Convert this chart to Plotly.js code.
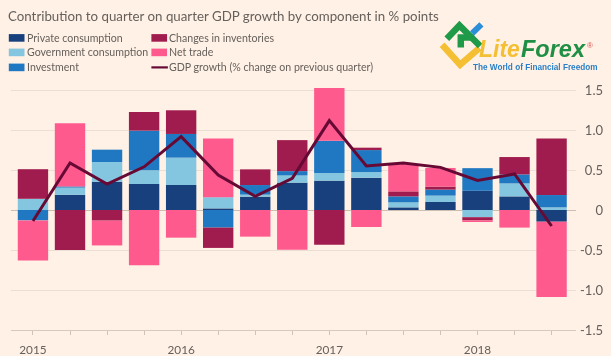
<!DOCTYPE html>
<html><head><meta charset="utf-8">
<script src="https://cdn.plot.ly/plotly-3.0.1.min.js"></script>
<style>html,body{margin:0;padding:0;background:#fff1e5;overflow:hidden}#c{width:611px;height:356px;filter:blur(0.45px)}</style>
</head><body><div id="c"></div>
<script>
const quarters = ["2015 Q1","2015 Q2","2015 Q3","2015 Q4","2016 Q1","2016 Q2","2016 Q3","2016 Q4","2017 Q1","2017 Q2","2017 Q3","2017 Q4","2018 Q1","2018 Q2","2018 Q3"];
const privateConsumption = [0,0.19,0.354,0.325,0.3125,0.02,0.167,0.342,0.367,0.404,0.033,0.1,0.24,0.17,-0.146];
const governmentConsumption = [0.14,0.09,0.246,0.171,0.342,0.14,0.025,0.09,0.096,0.07,0.0625,0.08,-0.09,0.1625,0.033];
const investment = [-0.13,0.015,0.154,0.496,0.296,-0.22,0.12,0.054,0.404,0.275,0.075,0.075,0.283,0.1125,0.154];
const inventories = [0.37,-0.50,-0.133,0.233,0.296,-0.254,0.196,0.3875,-0.433,0.03,0.0625,0.0375,-0.04,0.217,0.708];
const netTrade = [-0.50,0.79,-0.31,-0.69,-0.346,0.733,-0.333,-0.496,0.658,-0.2125,0.34,0.233,-0.02,-0.22,-0.94];
const gdpGrowth = [-0.1375,0.5875,0.325,0.54,0.917,0.4375,0.17,0.396,1.117,0.55,0.5875,0.533,0.37,0.45,-0.2];
const yearTicks = {"2015 Q1":"2015","2016 Q1":"2016","2017 Q1":"2017","2018 Q1":"2018"};
const yTickVals = [-1.5,-1,-0.5,0,0.5,1,1.5];
const yTickText = ["-1.5","-1.0","-0.5","0","0.5","1.0","1.5"];
const titleText = "Contribution to quarter on quarter GDP growth by component in % points";

const colors = {p:"#17407c",g:"#84c6e0",i:"#1f78c1",v:"#a11c4e",n:"#ff5a8e",l:"#660a35"};
const W=611,H=356,ml=10.5,mr=5,mt=81.6,mb=26.4;
const px=x=>(x-ml)/(W-ml-mr), py=y=>1-(y-mt)/(H-mt-mb);
const bar=(name,y,c)=>({type:"bar",name,x:quarters,y,width:0.82,marker:{color:c,line:{width:0}}});
const data=[
 bar("Private consumption",privateConsumption,colors.p),
 bar("Government consumption",governmentConsumption,colors.g),
 bar("Investment",investment,colors.i),
 bar("Changes in inventories",inventories,colors.v),
 bar("Net trade",netTrade,colors.n),
 {type:"scatter",mode:"lines",name:"GDP growth (% change on previous quarter)",x:quarters,y:gdpGrowth,line:{color:colors.l,width:3,shape:"linear"}}
];
const txt="#66605c", font="Lato, 'Open Sans', sans-serif";
const legendItems=[
 ["Private consumption",colors.p,8.3,37.5,"b"],["Government consumption",colors.g,8.3,52,"b"],["Investment",colors.i,8.3,67,"b"],
 ["Changes in inventories",colors.v,151,37.5,"b"],["Net trade",colors.n,151,52,"b"],["GDP growth (% change on previous quarter)",colors.l,151,67,"l"]];
const shapes=[],ann=[];
const off=3;
legendItems.forEach(([t,c,x,y,k])=>{
 if(k==="b")shapes.push({type:"rect",xref:"paper",yref:"paper",x0:px(x),x1:px(x+15.7),y0:py(y-3.8),y1:py(y+3.8),fillcolor:c,line:{width:0}});
 else shapes.push({type:"line",xref:"paper",yref:"paper",x0:px(x),x1:px(x+16.5),y0:py(y),y1:py(y),line:{color:c,width:2.2}});
 ann.push({text:t,xref:"paper",yref:"paper",x:px(x+19-off),y:py(y),xanchor:"left",yanchor:"middle",showarrow:false,font:{family:font,size:10.6,color:txt}});
});
ann.push({text:titleText,xref:"paper",yref:"paper",x:px(8-off),y:py(15.5),xanchor:"left",yanchor:"middle",showarrow:false,font:{family:font,size:13.3,color:txt}});
// logo
const poly=(pts,c,w)=>({type:"path",xref:"paper",yref:"paper",path:"M"+pts.map(p=>px(430+p[0]/3)+","+py(15+p[1]/3)).join(" L"),line:{color:c,width:w},fillcolor:"rgba(0,0,0,0)"});
shapes.push(poly([[36,88],[90,148],[148,98]],"#f4bf33",6.5));
shapes.push(poly([[50,70],[88,30],[150,92]],"#1f9a48",6.5));
shapes.push(poly([[92,96],[92,66],[132,66]],"#1f9a48",6.5));
shapes.push(poly([[126,54],[154,27]],"#2a8fd8",6));
ann.push({text:"<b><i>Lite</i></b>",xref:"paper",yref:"paper",x:px(480-off),y:py(49),xanchor:"left",yanchor:"middle",showarrow:false,font:{family:"Liberation Sans",size:23,color:"#f4bf33"}});
ann.push({text:"<b><i>Forex</i></b>",xref:"paper",yref:"paper",x:px(522-off),y:py(49),xanchor:"left",yanchor:"middle",showarrow:false,font:{family:"Liberation Sans",size:23.5,color:"#1f8f45"}});
ann.push({text:"®",xref:"paper",yref:"paper",x:px(590),y:py(45),xanchor:"center",yanchor:"middle",showarrow:false,font:{family:"Liberation Sans",size:8,color:"#d9534f"}});
ann.push({text:"<b>The World of Financial Freedom</b>",xref:"paper",yref:"paper",x:px(474-off),y:py(67.5),xanchor:"left",yanchor:"middle",showarrow:false,font:{family:"Liberation Sans",size:8.2,color:"#2a7fc8"}});

const layout={width:W,height:H,margin:{l:ml,r:mr,t:mt,b:mb,pad:0},paper_bgcolor:"#fff1e5",plot_bgcolor:"#fff1e5",
 barmode:"relative",showlegend:false,font:{family:font,size:12,color:txt},
 xaxis:{type:"category",categoryorder:"array",categoryarray:quarters,domain:[0,(576-ml)/(W-ml-mr)],range:[-0.593,14.66],
  tickmode:"array",tickvals:quarters,ticktext:quarters.map(q=>yearTicks[q]||""),ticks:"outside",ticklen:4,tickwidth:1,tickcolor:"#cfc3b8",
  showline:true,linecolor:"#d6cabf",linewidth:1,showgrid:false,zeroline:false,tickangle:0,fixedrange:true,ticklabelstandoff:5,tickfont:{size:11.8,color:txt}},
 yaxis:{range:[-1.5,1.6],anchor:"free",position:1,side:"left",tickmode:"array",tickvals:yTickVals,ticktext:yTickText,ticks:"",
  showgrid:true,gridcolor:"#ebdfd3",gridwidth:1,zeroline:true,zerolinecolor:"#cbbfb4",zerolinewidth:1,showline:false,ticklabelstandoff:3,fixedrange:true,tickfont:{size:13,color:txt}},
 shapes,annotations:ann};
Plotly.newPlot("c",data,layout,{displayModeBar:false,staticPlot:true});
</script></body></html>
